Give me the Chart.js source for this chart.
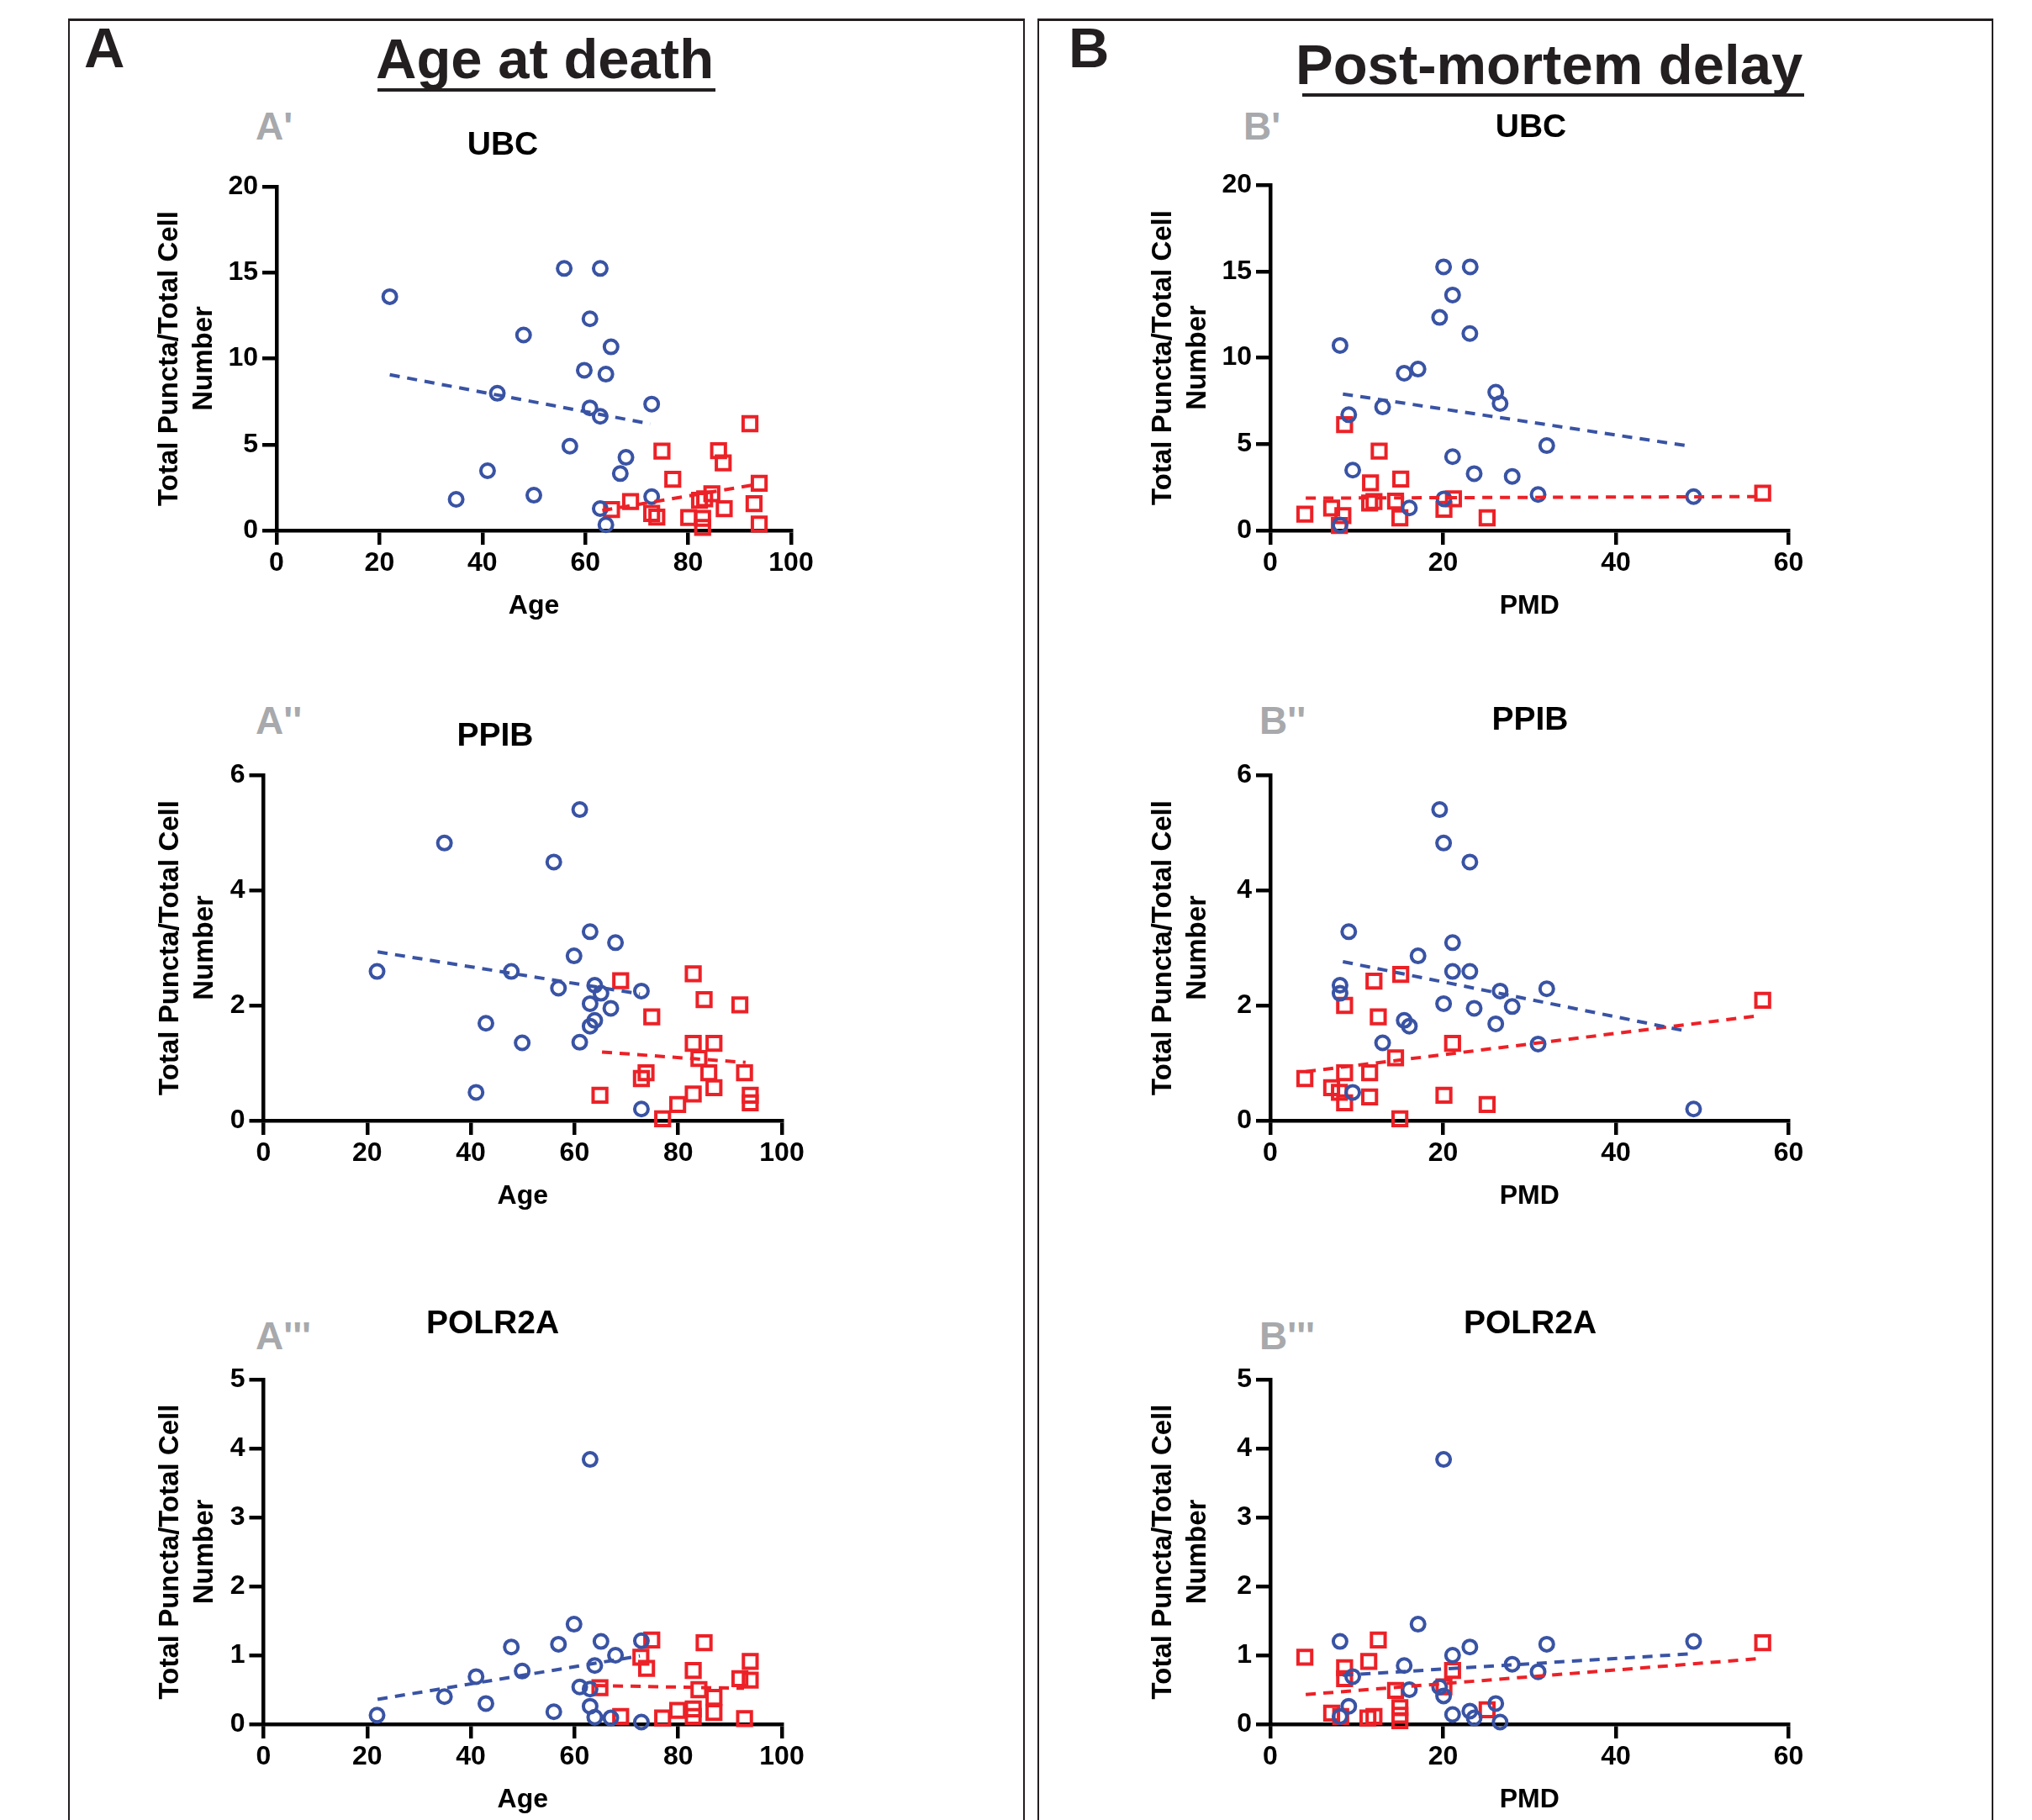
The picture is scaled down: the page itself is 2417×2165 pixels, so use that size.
<!DOCTYPE html>
<html>
<head>
<meta charset="utf-8">
<script src="https://cdn.jsdelivr.net/npm/chart.js@4.4.1/dist/chart.umd.min.js"></script>
<style>
  html, body { margin: 0; padding: 0; background: #fff; }
  body { width: 2417px; height: 2165px; position: relative; overflow: hidden;
         font-family: 'Liberation Sans', Arial, Helvetica, sans-serif; }
  .abs { position: absolute; white-space: nowrap; line-height: 1; font-weight: bold; }
  .frame { position: absolute; top: 22px; height: 2200px; box-sizing: border-box;
           border-top: 3px solid #231f20; border-left: 2px solid #231f20; border-right: 2px solid #231f20; }
  .big { font-size: 67px; color: #231f20; }
  .sub { font-size: 46px; color: #a7a9ac; }
  .rule { position: absolute; height: 4px; background: #231f20; }
  canvas { position: absolute; }
</style>
</head>
<body>
<div class="frame" style="left:81px;width:1138px"></div>
<div class="frame" style="left:1234px;width:1137px"></div>

<div class="abs big" style="left:100px;top:23px">A</div>
<div class="abs big" style="left:1271px;top:23px">B</div>
<div class="abs big" style="left:447px;top:36px">Age at death</div>
<div class="rule" style="left:449px;top:105px;width:402px"></div>
<div class="abs big" style="left:1541px;top:43px">Post-mortem delay</div>
<div class="rule" style="left:1549px;top:111px;width:597px"></div>

<div class="abs sub" style="left:304px;top:127px">A'</div>
<div class="abs sub" style="left:304px;top:834px">A''</div>
<div class="abs sub" style="left:304px;top:1566px">A'''</div>
<div class="abs sub" style="left:1479px;top:127px">B'</div>
<div class="abs sub" style="left:1498px;top:834px">B''</div>
<div class="abs sub" style="left:1498px;top:1566px">B'''</div>

<script>
// --- axis ticks ---
const ageTicks = [0, 20, 40, 60, 80, 100];
const pmdTicks = [0, 20, 40, 60];
const ubcTicks = [0, 5, 10, 15, 20];
const ppibTicks = [0, 2, 4, 6];
const polrTicks = [0, 1, 2, 3, 4, 5];

// --- A' UBC vs age ---
const ubcAgeBlueX = [22.0, 55.9, 62.9, 60.9, 48.0, 65.0, 59.8, 64.0, 42.9, 60.9, 62.9, 72.9, 57.0, 67.9, 66.8, 41.0, 34.9, 50.0, 72.9, 62.9, 64.0];
const ubcAgeBlueY = [13.6, 15.24, 15.24, 12.31, 11.37, 10.68, 9.32, 9.09, 7.98, 7.13, 6.64, 7.35, 4.90, 4.25, 3.31, 3.47, 1.81, 2.05, 1.97, 1.27, 0.33];
const ubcAgeRedX = [74.9, 85.9, 86.8, 92.0, 77.0, 93.8, 84.6, 83.2, 82.2, 87.0, 92.8, 68.8, 65.1, 72.9, 73.9, 80.1, 82.8, 82.8, 93.8];
const ubcAgeRedY = [4.61, 4.64, 3.93, 6.21, 2.98, 2.74, 2.13, 1.84, 1.76, 1.27, 1.56, 1.68, 1.22, 0.99, 0.78, 0.75, 0.70, 0.18, 0.37];
const ubcAgeBlueFit = [[22, 9.06], [72.6, 6.2]];
const ubcAgeRedFit = [[63.3, 1.16], [92.8, 2.65]];

// --- B' UBC vs PMD ---
const ubcPmdBlueX = [20.06, 23.14, 21.1, 19.6, 23.1, 8.07, 15.5, 17.1, 26.1, 26.6, 13.0, 9.08, 32.0, 21.1, 9.54, 23.6, 28.0, 31.0, 49.0, 20.1, 16.1, 8.07];
const ubcPmdBlueY = [15.26, 15.26, 13.63, 12.33, 11.40, 10.71, 9.10, 9.34, 8.0, 7.35, 7.15, 6.70, 4.91, 4.27, 3.49, 3.29, 3.13, 2.08, 1.96, 1.83, 1.30, 0.32];
const ubcPmdRedX = [4.0, 7.1, 8.6, 8.4, 8.0, 12.6, 11.6, 15.1, 11.5, 12.0, 14.5, 15.0, 20.1, 21.2, 25.1, 57.0];
const ubcPmdRedY = [0.94, 1.30, 6.13, 0.86, 0.29, 4.59, 2.76, 2.97, 1.59, 1.67, 1.70, 0.73, 1.22, 1.83, 0.73, 2.16];
const ubcPmdBlueFit = [[8.4, 7.9], [48.7, 4.87]];
const ubcPmdRedFit = [[4.1, 1.87], [56.5, 1.96]];

// --- A'' PPIB vs age ---
const ppibAgeBlueX = [61.0, 34.9, 56.0, 63.0, 67.9, 59.9, 21.9, 47.8, 63.9, 65.1, 72.9, 56.9, 63.0, 67.0, 63.9, 63.0, 42.9, 49.9, 61.0, 41.0, 72.9];
const ppibAgeBlueY = [5.40, 4.82, 4.49, 3.28, 3.09, 2.86, 2.59, 2.59, 2.35, 2.21, 2.25, 2.30, 2.03, 1.95, 1.74, 1.64, 1.69, 1.35, 1.36, 0.49, 0.20];
const ppibAgeRedX = [68.9, 82.9, 85.0, 91.9, 74.9, 82.9, 86.9, 84.0, 85.9, 92.8, 73.8, 72.9, 86.9, 82.9, 64.9, 93.9, 93.9, 79.9, 77.0];
const ppibAgeRedY = [2.43, 2.55, 2.10, 2.01, 1.80, 1.34, 1.34, 1.08, 0.83, 0.83, 0.83, 0.73, 0.57, 0.46, 0.44, 0.44, 0.31, 0.28, 0.03];
const ppibAgeBlueFit = [[22, 2.93], [72.6, 2.20]];
const ppibAgeRedFit = [[65.3, 1.19], [93, 1.01]];

// --- B'' PPIB vs PMD ---
const ppibPmdBlueX = [19.6, 20.06, 23.1, 9.08, 21.1, 17.1, 21.1, 23.1, 8.07, 8.07, 32.0, 26.6, 20.06, 28.0, 23.6, 15.5, 16.1, 26.1, 13.0, 31.0, 9.54, 49.0];
const ppibPmdBlueY = [5.40, 4.82, 4.49, 3.28, 3.09, 2.86, 2.59, 2.59, 2.35, 2.21, 2.29, 2.25, 2.03, 1.98, 1.95, 1.74, 1.64, 1.68, 1.35, 1.33, 0.49, 0.20];
const ppibPmdRedX = [15.1, 12.0, 8.6, 12.5, 21.1, 14.5, 8.6, 11.5, 4.0, 7.1, 8.0, 11.5, 8.6, 20.1, 25.1, 15.0, 57.0];
const ppibPmdRedY = [2.54, 2.42, 2.00, 1.80, 1.34, 1.09, 0.83, 0.83, 0.73, 0.57, 0.49, 0.41, 0.31, 0.44, 0.28, 0.03, 2.09];
const ppibPmdBlueFit = [[8.4, 2.76], [48.3, 1.55]];
const ppibPmdRedFit = [[4.1, 0.85], [56.5, 1.82]];

// --- A''' POLR2A vs age ---
const polrAgeBlueX = [63.0, 59.9, 72.9, 65.1, 56.9, 47.8, 67.9, 63.9, 49.9, 41.0, 34.9, 61.0, 63.0, 42.9, 56.0, 63.0, 63.9, 67.0, 21.9, 72.9];
const polrAgeBlueY = [3.84, 1.45, 1.21, 1.20, 1.16, 1.12, 1.00, 0.85, 0.77, 0.69, 0.40, 0.54, 0.51, 0.30, 0.18, 0.26, 0.10, 0.09, 0.13, 0.03];
const polrAgeRedX = [74.9, 85.0, 72.8, 73.9, 93.9, 82.9, 93.9, 91.9, 84.0, 64.9, 86.9, 86.9, 82.9, 82.9, 79.9, 68.9, 77.0, 92.8];
const polrAgeRedY = [1.22, 1.18, 0.97, 0.81, 0.91, 0.78, 0.64, 0.66, 0.50, 0.53, 0.39, 0.17, 0.22, 0.11, 0.20, 0.11, 0.09, 0.08];
const polrAgeBlueFit = [[22, 0.36], [72.6, 0.99]];
const polrAgeRedFit = [[64, 0.56], [92.7, 0.52]];

// --- B''' POLR2A vs PMD ---
const polrPmdBlueX = [20.06, 17.1, 8.07, 49.0, 32.0, 23.1, 21.1, 15.5, 28.0, 31.0, 9.54, 19.6, 20.06, 16.1, 9.08, 26.1, 23.1, 23.6, 21.1, 8.07, 26.6];
const polrPmdBlueY = [3.84, 1.45, 1.20, 1.20, 1.16, 1.12, 1.00, 0.85, 0.87, 0.76, 0.69, 0.54, 0.41, 0.50, 0.26, 0.30, 0.19, 0.09, 0.14, 0.11, 0.03];
const polrPmdRedX = [4.0, 12.5, 11.4, 8.6, 8.6, 21.1, 14.5, 20.1, 7.1, 8.15, 11.3, 12.0, 15.0, 15.0, 15.0, 25.1, 57.0];
const polrPmdRedY = [0.97, 1.22, 0.91, 0.82, 0.66, 0.78, 0.49, 0.54, 0.16, 0.11, 0.09, 0.11, 0.24, 0.13, 0.05, 0.21, 1.18];
const polrPmdBlueFit = [[8.4, 0.71], [48.7, 1.02]];
const polrPmdRedFit = [[4.1, 0.43], [56.5, 0.95]];

const FONT = "'Liberation Sans', Arial, Helvetica, sans-serif";
const BLUE = '#3953a4';
const RED = '#ec2127';
const Y_TITLE = ['Total Puncta/Total Cell', 'Number'];

Chart.defaults.font.family = FONT;

function pts(xs, ys) {
    return xs.map((x, i) => ({ x: x, y: ys[i] }));
}
function fitPts(f) {
    return f.map(p => ({ x: p[0], y: p[1] }));
}

// chart title drawn at a fixed spot (the plugin title can only centre on the canvas)
const panelTitle = {
    id: 'panelTitle',
    afterDraw(chart, args, opts) {
        const ctx = chart.ctx;
        ctx.save();
        ctx.font = 'bold 39px ' + FONT;
        ctx.fillStyle = '#000';
        ctx.textAlign = 'center';
        ctx.textBaseline = 'middle';
        ctx.fillText(opts.text, opts.x, opts.y);
        ctx.restore();
    }
};

function axis(ticks, title, isX, size) {
    return {
        type: 'linear',
        min: ticks[0],
        max: ticks[ticks.length - 1],
        afterBuildTicks: s => { s.ticks = ticks.map(v => ({ value: v })); },
        afterFit: s => { if (isX) s.height = size; else s.width = size; },
        ticks: {
            color: '#000',
            padding: isX ? 3 : 5,
            maxRotation: 0,
            autoSkip: false,
            font: { size: 32, weight: 'bold', lineHeight: 1.2 }
        },
        grid: {
            display: true,
            drawOnChartArea: false,
            drawTicks: true,
            tickLength: 17,
            lineWidth: 4.5,
            color: '#000'
        },
        border: { display: true, color: '#000', width: 4.5 },
        title: {
            display: true,
            text: title,
            color: '#000',
            padding: 0,
            font: isX ? { size: 32, weight: 'bold', lineHeight: 1.2 }
                      : { size: 33, weight: 'bold', lineHeight: 41 / 33 }
        }
    };
}

function makePanel(p) {
    const Hx = 109.6;
    const cx = Math.round(p.yt1 - 20.5);
    const cy = Math.round(p.ty - 36);
    const cw = Math.round(p.R - cx + 44);
    const ch = Math.round(p.B + Hx - cy);

    const canvas = document.createElement('canvas');
    canvas.width = cw;
    canvas.height = ch;
    canvas.style.left = cx + 'px';
    canvas.style.top = cy + 'px';
    canvas.style.width = cw + 'px';
    canvas.style.height = ch + 'px';
    document.body.appendChild(canvas);

    const lineSet = (f, c) => ({
        data: fitPts(f), showLine: true, pointRadius: 0, borderColor: c,
        borderWidth: 4, borderDash: [12, 9], clip: false
    });

    new Chart(canvas.getContext('2d'), {
        type: 'scatter',
        data: {
            datasets: [
                lineSet(p.blueFit, BLUE),
                lineSet(p.redFit, RED),
                {
                    data: pts(p.blueX, p.blueY), pointStyle: 'circle', pointRadius: 8,
                    pointBorderWidth: 4, pointBorderColor: BLUE, borderColor: BLUE,
                    pointBackgroundColor: 'rgba(0,0,0,0)', clip: false
                },
                {
                    data: pts(p.redX, p.redY), pointStyle: 'rect', pointRadius: 11.5,
                    pointBorderWidth: 4, pointBorderColor: RED, borderColor: RED,
                    pointBackgroundColor: 'rgba(0,0,0,0)', clip: false
                }
            ]
        },
        options: {
            responsive: false,
            animation: false,
            events: [],
            layout: {
                padding: {
                    left: 0,
                    top: p.T - cy,
                    right: cw - (p.R - cx),
                    bottom: Math.max(0, ch - (p.B - cy) - Hx)
                }
            },
            plugins: {
                legend: { display: false },
                tooltip: { enabled: false },
                title: { display: false },
                panelTitle: { text: p.title, x: p.tc - cx, y: p.ty - cy }
            },
            scales: {
                x: axis(p.xTicks, p.xTitle, true, Hx),
                y: axis(p.yTicks, Y_TITLE, false, p.L - cx)
            }
        },
        plugins: [panelTitle]
    });
}

const panels = [
    { title: 'UBC', L: 329, R: 941, T: 222, B: 631, tc: 598, ty: 173.5, yt1: 201,
      xTicks: ageTicks, yTicks: ubcTicks, xTitle: 'Age',
      blueX: ubcAgeBlueX, blueY: ubcAgeBlueY, redX: ubcAgeRedX, redY: ubcAgeRedY,
      blueFit: ubcAgeBlueFit, redFit: ubcAgeRedFit },
    { title: 'UBC', L: 1511, R: 2127.5, T: 220, B: 631, tc: 1821, ty: 152.5, yt1: 1383,
      xTicks: pmdTicks, yTicks: ubcTicks, xTitle: 'PMD',
      blueX: ubcPmdBlueX, blueY: ubcPmdBlueY, redX: ubcPmdRedX, redY: ubcPmdRedY,
      blueFit: ubcPmdBlueFit, redFit: ubcPmdRedFit },
    { title: 'PPIB', L: 313.5, R: 930, T: 922, B: 1333, tc: 589, ty: 876, yt1: 202,
      xTicks: ageTicks, yTicks: ppibTicks, xTitle: 'Age',
      blueX: ppibAgeBlueX, blueY: ppibAgeBlueY, redX: ppibAgeRedX, redY: ppibAgeRedY,
      blueFit: ppibAgeBlueFit, redFit: ppibAgeRedFit },
    { title: 'PPIB', L: 1511, R: 2127.5, T: 922, B: 1333, tc: 1820, ty: 857, yt1: 1383,
      xTicks: pmdTicks, yTicks: ppibTicks, xTitle: 'PMD',
      blueX: ppibPmdBlueX, blueY: ppibPmdBlueY, redX: ppibPmdRedX, redY: ppibPmdRedY,
      blueFit: ppibPmdBlueFit, redFit: ppibPmdRedFit },
    { title: 'POLR2A', L: 313.5, R: 930, T: 1641, B: 2051, tc: 586, ty: 1575, yt1: 202,
      xTicks: ageTicks, yTicks: polrTicks, xTitle: 'Age',
      blueX: polrAgeBlueX, blueY: polrAgeBlueY, redX: polrAgeRedX, redY: polrAgeRedY,
      blueFit: polrAgeBlueFit, redFit: polrAgeRedFit },
    { title: 'POLR2A', L: 1511, R: 2127.5, T: 1641, B: 2051, tc: 1820, ty: 1575, yt1: 1383,
      xTicks: pmdTicks, yTicks: polrTicks, xTitle: 'PMD',
      blueX: polrPmdBlueX, blueY: polrPmdBlueY, redX: polrPmdRedX, redY: polrPmdRedY,
      blueFit: polrPmdBlueFit, redFit: polrPmdRedFit }
];

panels.forEach(makePanel);
</script>
</body>
</html>
